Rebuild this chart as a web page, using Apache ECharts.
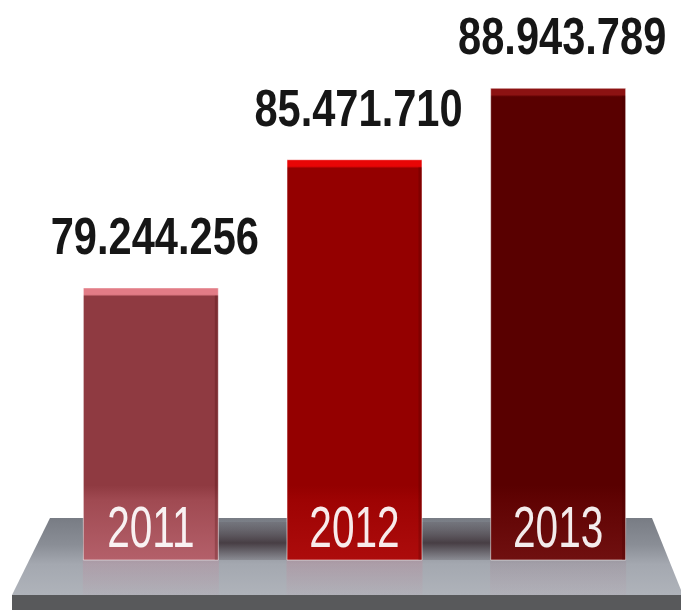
<!DOCTYPE html>
<html>
<head>
<meta charset="utf-8">
<script src="https://cdn.jsdelivr.net/npm/echarts@6/dist/echarts.min.js"></script>
<style>
  html, body { margin: 0; padding: 0; background: #ffffff; }
  #chart { width: 681px; height: 610px; }
</style>
</head>
<body>
<div id="chart"></div>
<script>
// Yearly totals
const years = ['2011', '2012', '2013'];
const totals = [79244256, 85471710, 88943789];

// Face colours for each bar: top highlight, body, lower body, foot
const barFaces = [
  ['#e27c86', '#8f3a41', '#a04a52', '#b4606a'],
  ['#e80606', '#940000', '#9e0303', '#ad0c0c'],
  ['#8c1212', '#590000', '#600303', '#701010']
];

const FONT = '"Liberation Sans", Arial, sans-serif';

function dotted(n) {
  return String(n).replace(/\B(?=(\d{3})+(?!\d))/g, '.');
}

const chart = echarts.init(document.getElementById('chart'), null, { renderer: 'canvas' });

const gridBottomPx = 560;
const yMin = 66000000, yMax = 90000000;
const gridTop = 66;
const plotH = gridBottomPx - gridTop;

// gradient stops in pixel terms, converted to fractions of each bar's height
function barFill(v, f) {
  const h = (v - yMin) / (yMax - yMin) * plotH;
  const a = 7 / h, b = 9 / h, c = 1 - 75 / h, d = 1 - 60 / h;
  return new echarts.graphic.LinearGradient(0, 0, 0, 1, [
    { offset: 0, color: f[0] },
    { offset: a, color: f[0] },
    { offset: b, color: f[1] },
    { offset: c, color: f[1] },
    { offset: d, color: f[2] },
    { offset: 1, color: f[3] }
  ]);
}

chart.setOption({
  animation: false,
  backgroundColor: '#ffffff',
  grid: { left: 49, right: 21, top: gridTop, bottom: 610 - gridBottomPx },
  xAxis: {
    type: 'category',
    data: years,
    axisLine: { show: false },
    axisTick: { show: false },
    axisLabel: { show: false }
  },
  yAxis: {
    type: 'value',
    min: yMin,
    max: yMax,
    show: false,
    splitLine: { show: false }
  },
  series: [{
    type: 'bar',
    barWidth: 136,
    data: totals.map((v, i) => ({
      value: v,
      itemStyle: {
        color: barFill(v, barFaces[i]),
        borderColor: 'rgba(255,255,255,0.3)',
        borderWidth: 1
      }
    }))
  }]
});

// Platform under the bars, shadow and reflection bands, and the condensed
// value / year captions, all placed from the axis scales
const half = 68;
const xs = years.map(y => chart.convertToPixel({ xAxisIndex: 0 }, y));
const tops = totals.map(v => chart.convertToPixel({ yAxisIndex: 0 }, v));
const platformTop = 518, platformFront = 595;
const graphics = [
  {
    type: 'polygon',
    z: 0,
    shape: { points: [[50, platformTop], [652, platformTop], [681, platformFront - 5], [681, platformFront], [12, platformFront]] },
    style: {
      fill: new echarts.graphic.LinearGradient(0, 0, 0, 1, [
        { offset: 0, color: '#787c84' },
        { offset: 0.35, color: '#8a8e96' },
        { offset: 0.6, color: '#a4a8b0' },
        { offset: 1, color: '#afb3ba' }
      ])
    }
  },
  {
    type: 'rect',
    z: 0,
    shape: { x: 12, y: platformFront, width: 669, height: 15 },
    style: { fill: '#58595b' }
  },
  {
    type: 'rect',
    z: 1,
    shape: { x: xs[0] - half, y: platformTop + 4, width: xs[2] - xs[0] + 2 * half, height: gridBottomPx - platformTop - 4 },
    style: {
      fill: new echarts.graphic.LinearGradient(0, 0, 0, 1, [
        { offset: 0, color: 'rgba(70,60,66,0.15)' },
        { offset: 0.55, color: 'rgba(60,48,54,0.85)' },
        { offset: 1, color: 'rgba(80,72,78,0.25)' }
      ])
    }
  }
];
const reflections = ['rgba(200,130,150,0.28)', 'rgba(200,120,140,0.25)', 'rgba(150,110,125,0.18)'];
xs.forEach((x, i) => {
  graphics.push({
    type: 'rect',
    z: 1,
    shape: { x: x - half, y: gridBottomPx, width: 2 * half, height: platformFront - gridBottomPx },
    style: {
      fill: new echarts.graphic.LinearGradient(0, 0, 0, 1, [
        { offset: 0, color: reflections[i] },
        { offset: 1, color: 'rgba(200,130,150,0.05)' }
      ])
    }
  });
  // thin darker edge on the right side of the bar
  graphics.push({
    type: 'rect',
    z: 5,
    shape: { x: x + half - 4, y: tops[i] + 8, width: 3, height: gridBottomPx - tops[i] - 8 },
    style: { fill: 'rgba(60,0,0,0.22)' }
  });
  // value above the bar
  graphics.push({
    type: 'text',
    z: 10,
    x: x + 4,
    y: tops[i] - 48,
    scaleX: 0.8,
    style: {
      text: dotted(totals[i]),
      font: 'bold 52px ' + FONT,
      fill: '#161616',
      textAlign: 'center',
      textVerticalAlign: 'middle'
    }
  });
  // year inside the bar foot
  graphics.push({
    type: 'text',
    z: 10,
    x: x,
    y: 531,
    scaleX: 0.7,
    style: {
      text: years[i],
      font: '58px ' + FONT,
      fill: 'rgba(255,255,255,0.92)',
      textAlign: 'center',
      textVerticalAlign: 'middle'
    }
  });
});
chart.setOption({ graphic: graphics });
</script>
</body>
</html>
